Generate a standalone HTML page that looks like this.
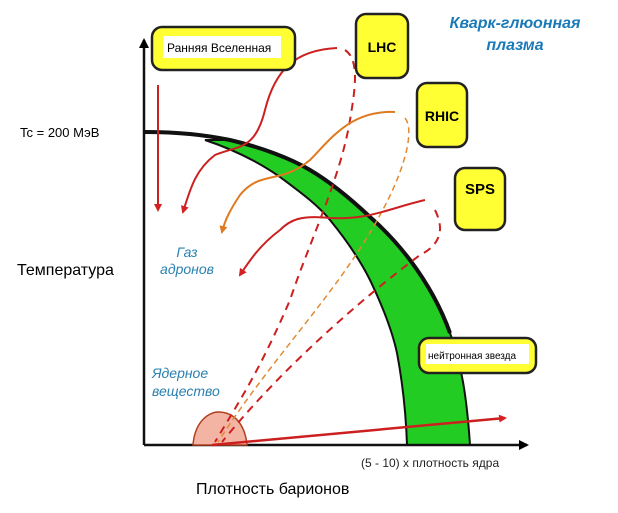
<!DOCTYPE html>
<html><head><meta charset="utf-8"><style>
body{margin:0;background:#fff;width:618px;height:513px;overflow:hidden}
svg{display:block}
text{font-family:"Liberation Sans",sans-serif}
</style></head><body>
<svg width="618" height="513" viewBox="0 0 618 513">
<defs>
<marker id="ar" markerWidth="8" markerHeight="8" refX="6" refY="4" orient="auto" markerUnits="userSpaceOnUse"><path d="M0,0 L8,4 L0,8 z" fill="#d42020"/></marker>
<marker id="ao" markerWidth="8" markerHeight="8" refX="6" refY="4" orient="auto" markerUnits="userSpaceOnUse"><path d="M0,0 L8,4 L0,8 z" fill="#e07a20"/></marker>
<marker id="ak" markerWidth="10" markerHeight="10" refX="8" refY="5" orient="auto" markerUnits="userSpaceOnUse"><path d="M0,0 L10,5 L0,10 z" fill="#000"/></marker>
</defs>
<!-- green band -->
<path d="M205,140 C235,150 260,163 280,177 C300,192 318,205 330,220 C348,242 360,260 370,280 C382,305 392,330 397,353 C403,385 406,415 407,445 L470,445 C467,400 462,365 450,333 C440,305 425,280 410,260 C397,243 385,230 370,217 C352,200 332,183 310,170 C290,158 260,147 230,140 Z" fill="#22cc22" stroke="#111" stroke-width="2"/>
<path d="M144,132 C180,132 205,135 230,140 C260,147 290,158 310,170 C332,183 352,200 370,217 C385,230 397,243 410,260 C425,280 440,305 450,333" fill="none" stroke="#111" stroke-width="4"/>
<!-- axes -->
<line x1="144" y1="445" x2="144" y2="40" stroke="#111" stroke-width="2.5" marker-end="url(#ak)"/>
<line x1="144" y1="445" x2="527" y2="445" stroke="#111" stroke-width="2.5" marker-end="url(#ak)"/>
<!-- nuclear blob -->
<path d="M193,445 C195,420 210,412 218,412 C235,412 245,425 247,445 Z" fill="#f4b4a4" stroke="#b04020" stroke-width="1.5"/>
<!-- dashed lines -->
<path d="M345,50 C360,60 355,90 350,120 C340,180 310,240 290,300 C260,370 240,400 215,442" fill="none" stroke="#cc2020" stroke-width="2" stroke-dasharray="8,6"/>
<path d="M405,118 C415,130 405,170 380,215 C340,290 270,360 218,442" fill="none" stroke="#e08a30" stroke-width="1.5" stroke-dasharray="6,4"/>
<path d="M435,210 C445,230 440,245 420,255 C360,300 280,370 222,442" fill="none" stroke="#cc2020" stroke-width="2" stroke-dasharray="8,6"/>
<!-- solid curves -->
<path d="M337,48 C295,50 275,70 265,110 C255,150 240,145 215,155 C195,170 190,190 183,212" fill="none" stroke="#cc2020" stroke-width="2" marker-end="url(#ar)"/>
<path d="M395,112 C350,110 330,140 310,160 C280,185 260,170 240,195 C230,210 225,220 222,232" fill="none" stroke="#e07a20" stroke-width="2" marker-end="url(#ao)"/>
<path d="M425,200 C390,208 370,220 330,218 C300,215 290,220 280,230 C260,245 250,260 240,275" fill="none" stroke="#cc2020" stroke-width="2" marker-end="url(#ar)"/>
<line x1="158" y1="85" x2="158" y2="210" stroke="#cc2020" stroke-width="2" marker-end="url(#ar)"/>
<line x1="212" y1="445" x2="505" y2="418" stroke="#cc2020" stroke-width="2.5" marker-end="url(#ar)"/>
<!-- boxes -->
<rect x="152" y="27" width="143" height="43" rx="10" fill="#ffff33" stroke="#222" stroke-width="2.5"/>
<rect x="163" y="36" width="118" height="22" fill="#fff"/>
<text x="167" y="52" font-size="12">Ранняя  Вселенная</text>
<rect x="356" y="14" width="52" height="64" rx="10" fill="#ffff33" stroke="#222" stroke-width="2.5"/>
<text x="382" y="52" font-size="14" text-anchor="middle" font-family="Liberation Serif" font-weight="bold">LHC</text>
<rect x="417" y="83" width="50" height="64" rx="10" fill="#ffff33" stroke="#222" stroke-width="2.5"/>
<text x="442" y="121" font-size="14" text-anchor="middle" font-weight="bold">RHIC</text>
<rect x="455" y="168" width="50" height="62" rx="10" fill="#ffff33" stroke="#222" stroke-width="2.5"/>
<text x="480" y="194" font-size="15" text-anchor="middle" font-weight="bold">SPS</text>
<rect x="419" y="338" width="117" height="35" rx="10" fill="#ffff33" stroke="#222" stroke-width="2.5"/>
<rect x="426" y="344" width="103" height="20" fill="#fff"/>
<text x="428" y="359" font-size="10">нейтронная звезда</text>
<!-- labels -->
<text x="515" y="28" font-size="16" fill="#1a7ab8" font-style="italic" font-weight="bold" text-anchor="middle">Кварк-глюонная</text>
<text x="515" y="50" font-size="16" fill="#1a7ab8" font-style="italic" font-weight="bold" text-anchor="middle">плазма</text>
<text x="20" y="137" font-size="13">Tc  =  200 МэВ</text>
<text x="17" y="275" font-size="16">Температура</text>
<text x="187" y="257" font-size="14" fill="#2a80b0" font-style="italic" text-anchor="middle">Газ</text>
<text x="187" y="274" font-size="14" fill="#2a80b0" font-style="italic" text-anchor="middle">адронов</text>
<text x="152" y="378" font-size="14" fill="#2a80b0" font-style="italic">Ядерное</text>
<text x="152" y="396" font-size="14" fill="#2a80b0" font-style="italic">вещество</text>
<text x="361" y="467" font-size="12" fill="#222">(5 - 10) x плотность ядра</text>
<text x="196" y="494" font-size="16">Плотность  барионов</text>
</svg>
</body></html>
